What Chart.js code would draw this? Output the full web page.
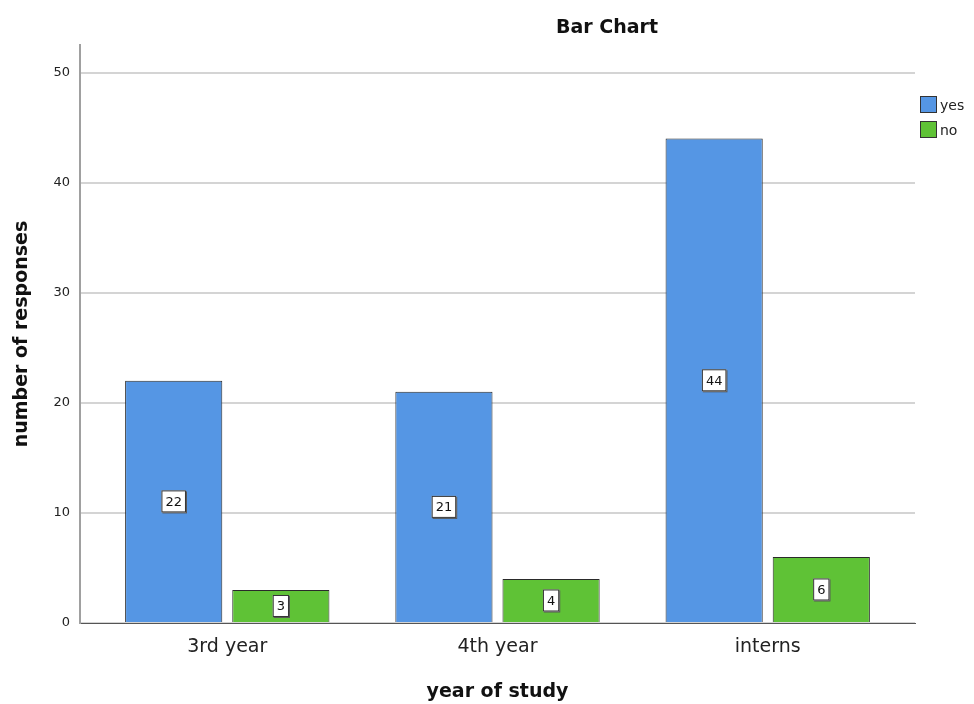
<!DOCTYPE html>
<html>
<head>
<meta charset="utf-8">
<script src="https://cdn.jsdelivr.net/npm/chart.js@4.4.1/dist/chart.umd.min.js"></script>
<style>
    body { margin: 0; background: #fff; }
    #wrap { position: relative; width: 974px; height: 704px; }
    #chartLegend { position: absolute; left: 920px; top: 92px; font-family: "DejaVu Sans", Arial, sans-serif; font-size: 14px; color: #222; }
</style>
</head>
<body>
<div id="wrap">
    <canvas id="barChart" width="974" height="704"></canvas>
    <div id="chartLegend"></div>
</div>
<script>
const categories = ['3rd year', '4th year', 'interns'];
const seriesNames = ['yes', 'no'];
const yesValues = [22, 21, 44];
const noValues = [3, 4, 6];
const yTicks = [0, 10, 20, 30, 40, 50];

const seriesColors = ['#5596e4', '#5fc236'];
const FONT = '"DejaVu Sans", Arial, sans-serif';

// value boxes drawn in the middle of each bar
const valueLabels = {
    id: 'valueLabels',
    afterDatasetsDraw(chart) {
        const ctx = chart.ctx;
        ctx.save();
        ctx.font = '13px ' + FONT;
        ctx.textAlign = 'center';
        ctx.textBaseline = 'middle';
        chart.data.datasets.forEach((ds, di) => {
            chart.getDatasetMeta(di).data.forEach((bar, i) => {
                const txt = String(ds.data[i].y);
                const cx = bar.x;
                const cy = (bar.y + bar.base) / 2;
                const w = ctx.measureText(txt).width + 8;
                const h = 22;
                ctx.fillStyle = '#555';
                ctx.fillRect(cx - w / 2 + 1, cy - h / 2 + 1, w, h);
                ctx.fillStyle = '#fff';
                ctx.fillRect(cx - w / 2, cy - h / 2, w, h);
                ctx.strokeStyle = '#333';
                ctx.lineWidth = 1;
                ctx.strokeRect(cx - w / 2 + 0.5, cy - h / 2 + 0.5, w - 1, h - 1);
                ctx.fillStyle = '#111';
                ctx.fillText(txt, cx, cy + 1);
            });
        });
        ctx.restore();
    }
};

// chart title sits off-centre like the original
const chartTitle = {
    id: 'chartTitle',
    afterDraw(chart) {
        const ctx = chart.ctx;
        ctx.save();
        ctx.font = 'bold 19px ' + FONT;
        ctx.fillStyle = '#111';
        ctx.textAlign = 'center';
        ctx.textBaseline = 'middle';
        ctx.fillText('Bar Chart', 607, 28);
        ctx.restore();
    }
};

const ctx = document.getElementById('barChart').getContext('2d');
const chart = new Chart(ctx, {
    type: 'bar',
    data: {
        datasets: [
            {
                label: seriesNames[0],
                data: yesValues.map((v, i) => ({ x: i, y: v })),
                backgroundColor: seriesColors[0],
                borderColor: '#2a2a2a',
                borderWidth: 1
            },
            {
                label: seriesNames[1],
                data: noValues.map((v, i) => ({ x: i, y: v })),
                backgroundColor: seriesColors[1],
                borderColor: '#2a2a2a',
                borderWidth: 1
            }
        ]
    },
    options: {
        responsive: false,
        animation: false,
        categoryPercentage: 0.793,
        barPercentage: 0.907,
        layout: {
            padding: { top: 45, right: 59, left: 0, bottom: 0 }
        },
        plugins: {
            legend: { display: false },
            tooltip: { enabled: false }
        },
        scales: {
            x: {
                type: 'linear',
                offset: false,
                min: -0.545,
                max: 2.545,
                afterBuildTicks: scale => {
                    scale.ticks = categories.map((c, i) => ({ value: i }));
                },
                afterFit: scale => { scale.height = 81; },
                grid: { display: false, drawTicks: false },
                border: { display: true, color: '#555', width: 1 },
                ticks: {
                    padding: 13,
                    color: '#222',
                    font: { family: FONT, size: 19 },
                    callback: value => categories[value] || ''
                },
                title: {
                    display: true,
                    text: 'year of study',
                    color: '#111',
                    font: { family: FONT, size: 19, weight: 'bold' },
                    padding: { top: 0, bottom: 1 }
                }
            },
            y: {
                min: 0,
                max: 52.5,
                afterBuildTicks: scale => {
                    scale.ticks = yTicks.map(v => ({ value: v }));
                },
                afterFit: scale => { scale.width = 80; },
                grid: { color: '#d4d4d4', lineWidth: 2, drawTicks: false },
                border: { display: true, color: '#a0a0a0', width: 2 },
                ticks: {
                    padding: 10,
                    color: '#222',
                    font: { family: FONT, size: 13 }
                },
                title: {
                    display: true,
                    text: 'number of responses',
                    color: '#111',
                    font: { family: FONT, size: 19, weight: 'bold' },
                    padding: { top: 11, bottom: 0 }
                }
            }
        }
    },
    plugins: [valueLabels, chartTitle]
});

// legend on the right
const legendContainer = document.getElementById('chartLegend');
seriesNames.forEach((name, index) => {
    const item = document.createElement('div');
    item.style.display = 'flex';
    item.style.alignItems = 'center';
    item.style.height = '25px';
    item.innerHTML = `
        <span style="display:inline-block; width:17px; height:17px; background-color:${seriesColors[index]}; border:1px solid #333; box-sizing:border-box; margin-right:3px;"></span>${name}`;
    legendContainer.appendChild(item);
});
</script>
</body>
</html>
